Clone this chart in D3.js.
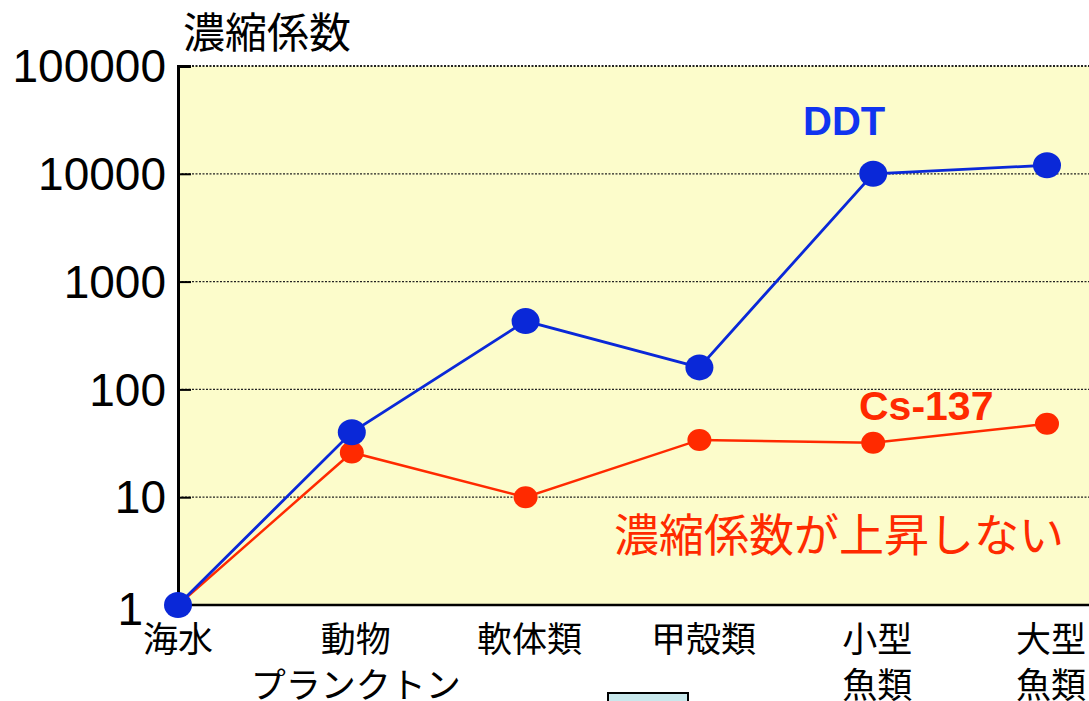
<!DOCTYPE html>
<html>
<head>
<meta charset="utf-8">
<script src="https://cdn.jsdelivr.net/npm/d3@7"></script>
<style>
  html, body { margin: 0; padding: 0; background: #fff; }
  svg { display: block; }
</style>
</head>
<body>
<svg id="chart" width="1089" height="701"></svg>
<script>
// categories on the x axis (line breaks as arrays)
const categories = [
  ['海水'],
  ['動物', 'プランクトン'],
  ['軟体類'],
  ['甲殻類'],
  ['小型', '魚類'],
  ['大型', '魚類']
];
// concentration factors
const ddtValues = [1, 40, 430, 160, 10000, 12000];
const csValues = [1, 26, 10, 34, 32, 48];
const yTicks = [1, 10, 100, 1000, 10000, 100000];

const svg = d3.select('#chart');
const plotLeft = 178, plotTop = 66, plotBottom = 605;

const x = d3.scaleLinear().domain([0, categories.length - 1]).range([178, 1047]);
const y = d3.scaleLog().domain([1, 100000]).range([plotBottom, plotTop]);

// plot background
svg.append('rect')
  .attr('x', plotLeft).attr('y', plotTop)
  .attr('width', 1089 - plotLeft + 10).attr('height', plotBottom - plotTop)
  .attr('fill', '#fcfccb');

// grid lines
svg.append('g').selectAll('line')
  .data(yTicks.slice(1))
  .join('line')
  .attr('x1', plotLeft).attr('x2', 1100)
  .attr('y1', d => y(d)).attr('y2', d => y(d))
  .attr('stroke', '#222')
  .attr('stroke-width', d => d === 100000 ? 2 : 1.3)
  .attr('stroke-dasharray', '2,1.5');

// y axis with inside ticks
const yAxis = d3.axisLeft(y)
  .tickValues(yTicks)
  .tickFormat(d3.format('d'))
  .tickSize(-13)
  .tickPadding(12);
const ya = svg.append('g').attr('transform', `translate(${plotLeft},0)`).call(yAxis);
ya.select('.domain').attr('stroke', '#000').attr('stroke-width', 3);
ya.selectAll('.tick line').attr('stroke', '#000').attr('stroke-width', 2);
ya.selectAll('.tick text')
  .attr('font-family', 'Liberation Sans, Arial, sans-serif')
  .attr('font-size', 46)
  .attr('fill', '#000')
  .attr('x', d => d === 1 ? -35 : -12)
  .attr('dy', d => d === 1 ? '0.43em' : '0.34em');

// bottom axis line
svg.append('line')
  .attr('x1', plotLeft).attr('x2', 1100)
  .attr('y1', plotBottom).attr('y2', plotBottom)
  .attr('stroke', '#000').attr('stroke-width', 2.5);

// y title
svg.append('text')
  .attr('x', 183).attr('y', 48)
  .attr('font-family', 'Noto Sans CJK JP, sans-serif')
  .attr('font-size', 42)
  .attr('fill', '#000')
  .text('濃縮係数');

// category labels
const catG = svg.append('g')
  .attr('font-family', 'Noto Sans CJK JP, sans-serif')
  .attr('font-size', 35)
  .attr('fill', '#000')
  .attr('text-anchor', 'middle');
categories.forEach((lines, i) => {
  const cx = x(i) + (i === 0 ? 0 : 4);
  const t = catG.append('text').attr('x', cx).attr('y', 652);
  lines.forEach((s, j) => {
    t.append('tspan').attr('x', cx).attr('dy', j === 0 ? 0 : 46).text(s);
  });
});

// series
const line = d3.line().x((d, i) => x(i)).y(d => y(d));
const series = [
  { name: 'Cs-137', values: csValues, color: '#ff2a00', width: 2.5, rx: 12, ry: 11 },
  { name: 'DDT', values: ddtValues, color: '#0a28d8', width: 2.8, rx: 14, ry: 13 }
];
series.forEach(s => {
  svg.append('path')
    .datum(s.values)
    .attr('d', line)
    .attr('fill', 'none')
    .attr('stroke', s.color)
    .attr('stroke-width', s.width);
  svg.append('g').selectAll('ellipse')
    .data(s.values)
    .join('ellipse')
    .attr('cx', (d, i) => x(i))
    .attr('cy', d => y(d))
    .attr('rx', s.rx).attr('ry', s.ry)
    .attr('fill', s.color);
});

// series labels
svg.append('text')
  .attr('x', 803).attr('y', 135)
  .attr('font-family', 'Liberation Sans, Arial, sans-serif')
  .attr('font-weight', 'bold')
  .attr('font-size', 40)
  .attr('fill', '#1034f0')
  .text('DDT');
svg.append('text')
  .attr('x', 859).attr('y', 420)
  .attr('font-family', 'Liberation Sans, Arial, sans-serif')
  .attr('font-weight', 'bold')
  .attr('font-size', 41)
  .attr('fill', '#ff2a00')
  .text('Cs-137');
svg.append('text')
  .attr('x', 614).attr('y', 552)
  .attr('font-family', 'Noto Sans CJK JP, sans-serif')
  .attr('font-size', 45)
  .attr('fill', '#ff2a00')
  .text('濃縮係数が上昇しない');

// small box peeking in at the bottom
svg.append('rect')
  .attr('x', 608).attr('y', 693)
  .attr('width', 80).attr('height', 20)
  .attr('fill', '#c8e8ec')
  .attr('stroke', '#000').attr('stroke-width', 2);
</script>
</body>
</html>
